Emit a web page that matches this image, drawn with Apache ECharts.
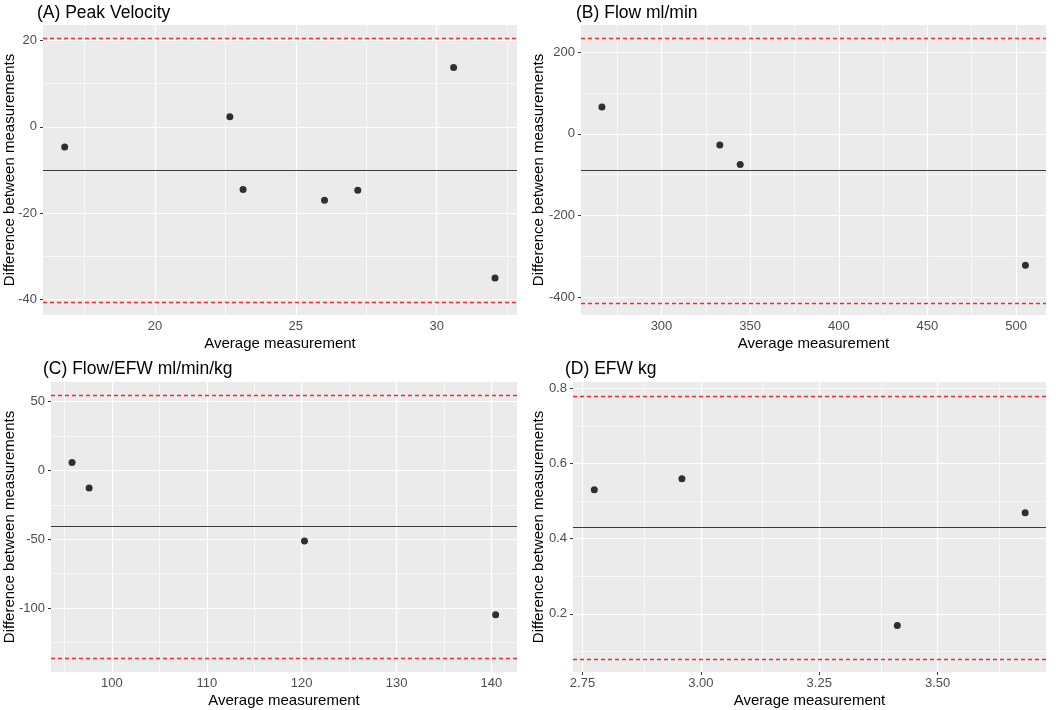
<!DOCTYPE html>
<html>
<head>
<meta charset="utf-8">
<script src="https://cdn.jsdelivr.net/npm/echarts@6/dist/echarts.min.js"></script>
<style>
html,body{margin:0;padding:0;background:#fff;}
#chart{width:1056px;height:710px;}
</style>
</head>
<body>
<div id="chart"></div>
<script>
// ---- Data ----
const panelTitles = ['(A) Peak Velocity', '(B) Flow ml/min', '(C) Flow/EFW ml/min/kg', '(D) EFW kg'];

const avgA = [16.8, 22.66, 23.13, 26.02, 27.2, 30.6, 32.07];
const diffA = [-4.7, 2.3, -14.5, -17.0, -14.7, 13.7, -35.0];
const biasA = -10.0;
const loaA = [20.5, -40.6];
const xTicksA = [20, 25, 30];
const xMinorA = [17.5, 22.5, 27.5, 32.5];
const yTicksA = [-40, -20, 0, 20];
const yMinorA = [-30, -10, 10];
const xRangeA = [16.03, 32.85];
const yRangeA = [-43.53, 23.54];

const avgB = [266.4, 332.9, 344.4, 505.3];
const diffB = [66, -27, -75, -322];
const biasB = -90;
const loaB = [234, -414];
const xTicksB = [300, 350, 400, 450, 500];
const xMinorB = [275, 325, 375, 425, 475];
const yTicksB = [-400, -200, 0, 200];
const yMinorB = [-300, -100, 100];
const xRangeB = [254.6, 516.9];
const yRangeB = [-444, 267];

const avgC = [95.8, 97.6, 120.3, 140.45];
const diffC = [5.8, -12.8, -51.2, -104.9];
const biasC = -40.9;
const loaC = [54.8, -136.7];
const xTicksC = [100, 110, 120, 130, 140];
const xMinorC = [95, 105, 115, 125, 135];
const yTicksC = [-100, -50, 0, 50];
const yMinorC = [-125, -75, -25, 25];
const xRangeC = [93.58, 142.7];
const yRangeC = [-146.4, 64.2];

const avgD = [2.775, 2.96, 3.415, 3.685];
const diffD = [0.53, 0.559, 0.169, 0.469];
const biasD = 0.431;
const loaD = [0.783, 0.0805];
const xTicksD = [2.75, 3.00, 3.25, 3.50];
const xMinorD = [2.875, 3.125, 3.375, 3.625];
const yTicksD = [0.2, 0.4, 0.6, 0.8];
const yMinorD = [0.1, 0.3, 0.5, 0.7];
const xRangeD = [2.73, 3.729];
const yRangeD = [0.0452, 0.8167];

const xTitle = 'Average measurement';
const yTitle = 'Difference between measurements';

// ---- Layout / style ----
const FONT = "'Liberation Sans', Arial, Helvetica, sans-serif";
const grids = [
  {left: 43, top: 25, width: 474, height: 290},
  {left: 581, top: 25, width: 465, height: 290},
  {left: 51, top: 382, width: 466, height: 290},
  {left: 573, top: 382, width: 473, height: 290}
];
const titlePos = [
  {left: 37, top: 4},
  {left: 576, top: 4},
  {left: 43, top: 360},
  {left: 565, top: 360}
];
const yNameGap = [26, 35, 34, 27];

const panels = [
  {avg: avgA, diff: diffA, bias: biasA, loa: loaA, xt: xTicksA, xm: xMinorA, yt: yTicksA, ym: yMinorA, xr: xRangeA, yr: yRangeA, xfmt: v => String(v), yfmt: v => String(v)},
  {avg: avgB, diff: diffB, bias: biasB, loa: loaB, xt: xTicksB, xm: xMinorB, yt: yTicksB, ym: yMinorB, xr: xRangeB, yr: yRangeB, xfmt: v => String(v), yfmt: v => String(v)},
  {avg: avgC, diff: diffC, bias: biasC, loa: loaC, xt: xTicksC, xm: xMinorC, yt: yTicksC, ym: yMinorC, xr: xRangeC, yr: yRangeC, xfmt: v => String(v), yfmt: v => String(v)},
  {avg: avgD, diff: diffD, bias: biasD, loa: loaD, xt: xTicksD, xm: xMinorD, yt: yTicksD, ym: yMinorD, xr: xRangeD, yr: yRangeD, xfmt: v => Number(v).toFixed(2), yfmt: v => Number(v).toFixed(1)}
];

const option = {
  backgroundColor: '#ffffff',
  animation: false,
  textStyle: {fontFamily: FONT},
  title: [], grid: [], xAxis: [], yAxis: [], series: []
};

panels.forEach((p, i) => {
  option.title.push({
    text: panelTitles[i], left: titlePos[i].left, top: titlePos[i].top, padding: 0,
    textStyle: {fontFamily: FONT, fontSize: 17.5, fontWeight: 'normal', color: '#000'}
  });
  option.grid.push(Object.assign({
    show: true, backgroundColor: '#EBEBEB', borderWidth: 0, containLabel: false, outerBoundsMode: 'none'
  }, grids[i]));
  option.xAxis.push({
    type: 'value', gridIndex: i, min: p.xr[0], max: p.xr[1],
    name: xTitle, nameLocation: 'middle', nameGap: 21.5, nameMoveOverlap: false,
    nameTextStyle: {fontFamily: FONT, fontSize: 15, color: '#000'},
    axisLine: {show: false},
    axisTick: {show: true, customValues: p.xt, length: 3, lineStyle: {color: '#333', width: 1}},
    axisLabel: {show: true, customValues: p.xt, margin: 5, fontSize: 13, color: '#4D4D4D', fontFamily: FONT, formatter: p.xfmt},
    splitLine: {show: false}
  });
  option.yAxis.push({
    type: 'value', gridIndex: i, min: p.yr[0], max: p.yr[1],
    name: yTitle, nameLocation: 'middle', nameGap: yNameGap[i], nameRotate: 90, nameMoveOverlap: false,
    nameTextStyle: {fontFamily: FONT, fontSize: 15, color: '#000'},
    axisLine: {show: false},
    axisTick: {show: true, customValues: p.yt, length: 3, lineStyle: {color: '#333', width: 1}},
    axisLabel: {show: true, customValues: p.yt, margin: 6, fontSize: 13, color: '#4D4D4D', fontFamily: FONT, formatter: p.yfmt},
    splitLine: {show: false}
  });
  // minor grid lines
  option.series.push({
    type: 'line', xAxisIndex: i, yAxisIndex: i, data: [], silent: true, z: 1,
    markLine: {
      silent: true, symbol: ['none', 'none'], label: {show: false}, animation: false, z: 1,
      lineStyle: {color: '#ffffff', width: 0.6, type: 'solid'},
      emphasis: {disabled: true},
      data: p.xm.map(v => ({xAxis: v})).concat(p.ym.map(v => ({yAxis: v})))
    }
  });
  // major grid lines
  option.series.push({
    type: 'line', xAxisIndex: i, yAxisIndex: i, data: [], silent: true, z: 1,
    markLine: {
      silent: true, symbol: ['none', 'none'], label: {show: false}, animation: false, z: 1,
      lineStyle: {color: '#ffffff', width: 1.2, type: 'solid'},
      emphasis: {disabled: true},
      data: p.xt.map(v => ({xAxis: v})).concat(p.yt.map(v => ({yAxis: v})))
    }
  });
  // bias line
  option.series.push({
    type: 'line', xAxisIndex: i, yAxisIndex: i, data: [], silent: true, z: 2,
    markLine: {
      silent: true, symbol: ['none', 'none'], label: {show: false}, animation: false, z: 2,
      lineStyle: {color: '#3a3a3a', width: 1.2, type: 'solid'},
      emphasis: {disabled: true},
      data: [{yAxis: p.bias}]
    }
  });
  // limits of agreement
  option.series.push({
    type: 'line', xAxisIndex: i, yAxisIndex: i, data: [], silent: true, z: 2,
    markLine: {
      silent: true, symbol: ['none', 'none'], label: {show: false}, animation: false, z: 2,
      lineStyle: {color: '#EE2C2C', width: 1.3, type: [4, 3]},
      emphasis: {disabled: true},
      data: p.loa.map(v => ({yAxis: v}))
    }
  });
  // points
  option.series.push({
    type: 'scatter', xAxisIndex: i, yAxisIndex: i, z: 10,
    symbol: 'circle', symbolSize: 7,
    itemStyle: {color: '#000000'},
    data: p.avg.map((x, k) => [x, p.diff[k]])
  });
});

const chart = echarts.init(document.getElementById('chart'), null, {renderer: 'canvas'});
chart.setOption(option);
</script>
</body>
</html>
